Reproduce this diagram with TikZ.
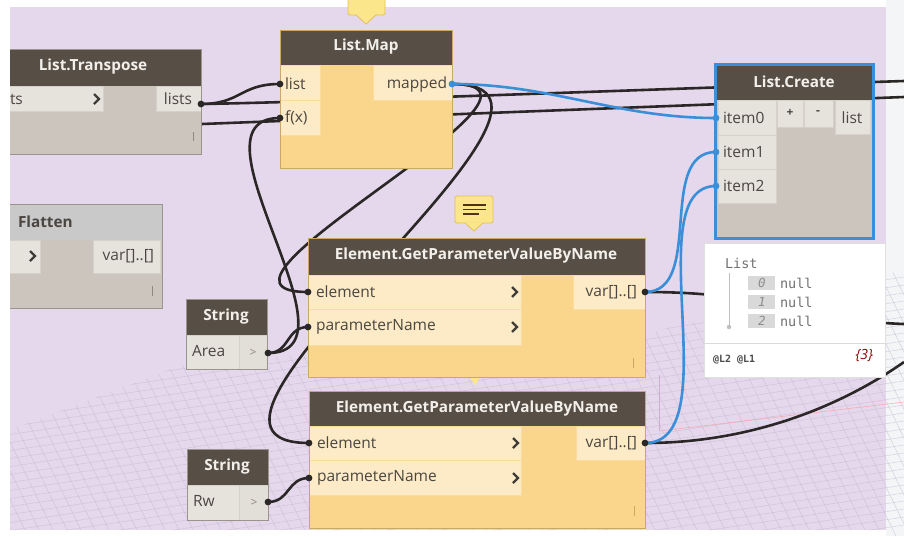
\documentclass[tikz,border=0pt]{standalone}
\usepackage{fontspec}
\setmainfont{Open Sans}
\newfontfamily\monof{DejaVu Sans Mono}
\usetikzlibrary{calc}

\definecolor{canvas}{HTML}{E5D8EC}
\definecolor{strip}{HTML}{F3F5F7}
\definecolor{hdr}{HTML}{574E45}
\definecolor{titlec}{HTML}{F3F0EB}
\definecolor{ybody}{HTML}{FAD68C}
\definecolor{ypanel}{HTML}{FCEBC6}
\definecolor{yedge}{HTML}{C9A965}
\definecolor{gbody}{HTML}{CBC5BE}
\definecolor{gpanel}{HTML}{E6E2DC}
\definecolor{gedge}{HTML}{9B948C}
\definecolor{portc}{HTML}{4B4641}
\definecolor{wirec}{HTML}{2A2726}
\definecolor{selc}{HTML}{3A8FD8}
\definecolor{notey}{HTML}{FCE68C}
\definecolor{noteedge}{HTML}{E2C15A}
\definecolor{gridc}{HTML}{BFB3CF}
\definecolor{gripc}{HTML}{8E8880}

\tikzset{
  every node/.style={inner sep=0pt, outer sep=0pt},
  ynode/.style={fill=ybody, anchor=north west},
  gnode/.style={fill=gbody, anchor=north west},
  yframe/.style={draw=yedge, line width=0.7pt},
  gframe/.style={draw=gedge, line width=0.7pt},
  ypan/.style={fill=ypanel, draw=ybody!70!ypanel, line width=0.5pt},
  gpan/.style={fill=gpanel, draw=gbody!60!gpanel, line width=0.5pt},
  title/.style={text=titlec, font=\bfseries\fontsize{15.3}{18}\selectfont},
  lbl/.style={text=portc, font=\fontsize{15.5}{18}\selectfont},
  wire/.style={draw=wirec, line width=2.6pt},
  selwire/.style={draw=selc, line width=2.6pt},
  chev/.style={draw=portc!85!black, line width=2.3pt},
  grip/.style={draw=gripc, line width=0.9pt},
  monotxt/.style={text=black!55, font=\monof\fontsize{13.5}{16}\selectfont},
}

\begin{document}
\begin{tikzpicture}[x=1pt,y=-1pt]
\useasboundingbox (0,0) rectangle (904,536);
\fill[white] (0,0) rectangle (904,536);
\fill[strip] (886,0) rectangle (904,536);
\fill[canvas] (10,7) rectangle (886,530);

% ground grid of the background view
\begin{scope}
  \clip (10,430) -- (190,362) -- (640,335) -- (904,270) -- (904,536) -- (886,536) -- (886,530) -- (10,530) -- cycle;
  \foreach \k in {0,...,45}
    \draw[gridc, line width=0.5pt, opacity=0.55] (0,300+8*\k) -- (904,165+8*\k);
  \foreach \k in {-20,...,70}
    \draw[gridc, line width=0.5pt, opacity=0.55] (14*\k,250) -- (14*\k+140,536);
\end{scope}
\draw[red!40, line width=0.6pt, opacity=0.7] (660,431) -- (904,402);
\draw[violet!40, line width=0.6pt, opacity=0.7] (659,375) -- (659,431);

% port positions
\coordinate (ltr-lists) at (201,104);
\coordinate (ltr-hid)   at (150,126);
\coordinate (far-a) at (904,81);
\coordinate (far-b) at (904,97);
\coordinate (far-c) at (904,324);
\coordinate (far-d) at (904,362);
\coordinate (lm-list) at (280,84);
\coordinate (lm-fx)   at (280,118);
\coordinate (lm-out)  at (452,84);
\coordinate (lc-i0) at (716,118);
\coordinate (lc-i1) at (716,152);
\coordinate (lc-i2) at (716,186);
\coordinate (e1-el)  at (308,292);
\coordinate (e1-pn)  at (308,327);
\coordinate (e1-out) at (645,292);
\coordinate (e2-el)  at (309,443);
\coordinate (e2-pn)  at (309,478);
\coordinate (e2-out) at (645,443);
\coordinate (sa-out) at (268,353);
\coordinate (sr-out) at (268,502);

% wires
\draw[wire] (ltr-lists) .. controls +(40,0) and +(-40,0) .. (lm-list);
\draw[wire] (ltr-lists) .. controls +(120,-2) and +(-300,10) .. (far-a);
\draw[wire] (ltr-hid) -- (far-b);
\draw[wire] (sa-out) .. controls +(100,0) and +(-100,0) .. (lm-fx);
\draw[wire] (sa-out) .. controls +(22,0) and +(-22,0) .. (e1-pn);
\draw[wire] (lm-out) .. controls +(140,0) and +(-140,0) .. (e1-el);
\draw[wire] (lm-out) .. controls +(180,0) and +(-180,0) .. (e2-el);
\draw[wire] (sr-out) .. controls +(22,0) and +(-22,0) .. (e2-pn);
\draw[wire] (e1-out) .. controls +(130,0) and +(-110,-4) .. (far-c);
\draw[wire] (e2-out) .. controls +(115,0) and +(-54,38) .. (far-d);
\draw[selwire] (lm-out) .. controls +(100,0) and +(-100,0) .. (lc-i0);
\draw[selwire] (e1-out) .. controls +(60,0) and +(-60,0) .. (lc-i1);
\draw[selwire] (e2-out) .. controls +(85,0) and +(-80,0) .. (lc-i2);

% pointer of a note lying behind the first GetParameterValueByName node
\fill[notey] (469,376) -- (475,385) -- (481,376) -- cycle;

\begin{scope}
\clip (10,0) rectangle (904,536);
% List.Transpose
\node[gnode, minimum width=200, minimum height=105] (ltr) at (1,49) {};
\fill[hdr] (1,49) rectangle (201,86);
\fill[gpan] (1,86) rectangle (103,111);
\fill[gpan] (156,86) rectangle (201,111);
\draw[gframe] (ltr.north west) rectangle (ltr.south east);
\node[title] (ltr-t) at (93,67) {List.Transpose};
\node[lbl, anchor=west] (ltr-in) at (10,99) {ts};
\node[lbl] (ltr-o) at (178,99) {lists};
\draw[chev] (94,94) -- (99,99) -- (94,104);
\draw[grip] (193,132) -- (193,141);

% Flatten
\node[gnode, minimum width=161, minimum height=104] (flat) at (1,204) {};
\fill[black!21] (1,204) rectangle (162,240);
\fill[gpan] (1,240) rectangle (40,273);
\fill[gpan] (93,240) rectangle (160,273);
\draw[gframe] (flat.north west) rectangle (flat.south east);
\node[anchor=west, text=portc, font=\bfseries\fontsize{15.3}{18}\selectfont] (flat-t) at (18,222) {Flatten};
\node[lbl, anchor=east] (flat-o) at (154,256) {var[]..[]};
\draw[chev] (30,251) -- (35,256) -- (30,261);
\draw[grip] (152,286) -- (152,296);
\end{scope}

% List.Map
\node[ynode, minimum width=172, minimum height=138] (lmap) at (280,30) {};
\fill[hdr] (280,30) rectangle (452,65);
\fill[ypan] (280,65) rectangle (320,100);
\fill[ypan] (280,100) rectangle (320,135);
\fill[ypan] (373,65) rectangle (452,100);
\draw[yframe] (lmap.north west) rectangle (lmap.south east);
\node[title] (lmap-t) at (366,47) {List.Map};
\node[lbl, anchor=west] (lmap-l) at (285,84) {list};
\node[lbl, anchor=west] (lmap-f) at (285,118) {f(x)};
\node[lbl, anchor=east] (lmap-m) at (447,84) {mapped};

% List.Create (selected)
\node[gnode, minimum width=158, minimum height=174] (lcr) at (715,64) {};
\fill[hdr] (715,64) rectangle (873,100);
\fill[gpan] (718,100) rectangle (776,135);
\fill[gpan] (718,135) rectangle (776,169);
\fill[gpan] (718,169) rectangle (776,203);
\fill[gpan] (777,100) rectangle (803,127);
\fill[gpan] (804,100) rectangle (833,127);
\fill[gpan] (835,100) rectangle (870,134);
\draw[selc, line width=3pt] (lcr.north west) rectangle (lcr.south east);
\node[title] (lcr-t) at (794,82) {List.Create};
\node[lbl, anchor=west] (lcr-0) at (723,118) {item0};
\node[lbl, anchor=west] (lcr-1) at (723,152) {item1};
\node[lbl, anchor=west] (lcr-2) at (723,186) {item2};
\node[lbl, font=\bfseries\fontsize{12}{14}\selectfont] (lcr-p) at (790,113) {+};
\node[lbl, font=\bfseries\fontsize{12}{14}\selectfont] (lcr-m) at (818,113) {-};
\node[lbl] (lcr-o) at (852,118) {list};

% Element.GetParameterValueByName (Area)
\node[ynode, minimum width=337, minimum height=139] (ge1) at (308,238) {};
\fill[hdr] (308,238) rectangle (645,275);
\fill[ypan] (308,275) rectangle (521,309);
\fill[ypan] (308,309) rectangle (521,345);
\fill[ypan] (573,275) rectangle (645,309);
\draw[yframe] (ge1.north west) rectangle (ge1.south east);
\node[title] (ge1-t) at (476,256) {Element.GetParameterValueByName};
\node[lbl, anchor=west] (ge1-e) at (316,292) {element};
\node[lbl, anchor=west] (ge1-p) at (316,327) {parameterName};
\node[lbl, anchor=east] (ge1-o) at (637,292) {var[]..[]};
\draw[chev] (512,287) -- (517,292) -- (512,297);
\draw[chev] (512,322) -- (517,327) -- (512,332);
\draw[grip, draw=yedge] (633,358) -- (633,368);

% Element.GetParameterValueByName (Rw)
\node[ynode, minimum width=336, minimum height=137] (ge2) at (309,391) {};
\fill[hdr] (309,391) rectangle (645,426);
\fill[ypan] (309,426) rectangle (521,460);
\fill[ypan] (309,460) rectangle (521,495);
\fill[ypan] (576,426) rectangle (645,460);
\draw[yframe] (ge2.north west) rectangle (ge2.south east);
\node[title] (ge2-t) at (477,409) {Element.GetParameterValueByName};
\node[lbl, anchor=west] (ge2-e) at (317,443) {element};
\node[lbl, anchor=west] (ge2-p) at (317,478) {parameterName};
\node[lbl, anchor=east] (ge2-o) at (637,443) {var[]..[]};
\draw[chev] (513,438) -- (518,443) -- (513,448);
\draw[chev] (513,473) -- (518,478) -- (513,483);
\draw[grip, draw=yedge] (634,506) -- (634,516);

% String nodes
\node[gnode, minimum width=81, minimum height=70] (sarea) at (186,299) {};
\fill[hdr] (186,299) rectangle (267,335);
\fill[gpan] (186,335) rectangle (239,369);
\fill[gpan, fill=gpanel!85!gbody] (239,335) rectangle (267,369);
\draw[gframe] (sarea.north west) rectangle (sarea.south east);
\node[title] (sarea-t) at (226,317) {String};
\node[lbl, anchor=west] (sarea-v) at (192,351) {Area};
\node[text=gripc, font=\fontsize{12}{14}\selectfont] (sarea-g) at (253,353) {>};

\node[gnode, minimum width=81, minimum height=71] (srw) at (187,449) {};
\fill[hdr] (187,449) rectangle (268,485);
\fill[gpan] (187,485) rectangle (239,520);
\fill[gpan, fill=gpanel!85!gbody] (239,485) rectangle (268,520);
\draw[gframe] (srw.north west) rectangle (srw.south east);
\node[title] (srw-t) at (227,467) {String};
\node[lbl, anchor=west] (srw-v) at (193,501) {Rw};
\node[text=gripc, font=\fontsize{12}{14}\selectfont] (srw-g) at (254,503) {>};

% watch preview below List.Create
\node[fill=white, draw=black!12, line width=0.6pt, anchor=north west, minimum width=181, minimum height=134] (watch) at (704,243) {};
\draw[black!14, line width=0.6pt] (704,343) -- (885,343);
\node[monotxt, anchor=west] (w-head) at (725,263) {List};
\draw[black!25, line width=1pt] (729,273) -- (729,327);
\fill[black!25] (729,327) circle (2.2);
\foreach \i/\yy in {0/283,1/302,2/321} {
  \fill[black!15] (748,\yy-7) rectangle (775,\yy+7);
  \node[monotxt, font=\monof\itshape\fontsize{12.5}{14}\selectfont, text=black!45] (w-i\i) at (762,\yy) {\i};
  \node[monotxt, anchor=west] (w-n\i) at (780,\yy) {null};
}
\node[anchor=west, text=black!70, font=\monof\bfseries\fontsize{10}{12}\selectfont] (w-lev) at (713,360) {@L2 @L1};
\node[anchor=east, text=red!55!black, font=\itshape\fontsize{14}{16}\selectfont] (w-cnt) at (873,356) {\{3\}};

% port dots
\foreach \p in {ltr-lists,lm-list,lm-fx,e1-el,e1-pn,e2-el,e2-pn,e1-out,e2-out,sa-out,sr-out}
  \fill[wirec] (\p) circle (3.4);
\foreach \p in {lm-out,lc-i0,lc-i1,lc-i2}
  \fill[selc] (\p) circle (3.4);

% notes
\node[fill=notey, draw=noteedge, line width=0.8pt, rounded corners=1.5pt, anchor=south west, minimum width=37, minimum height=26] (note1) at (348,15) {};
\fill[notey] (356,14) -- (366,24) -- (376,14) -- cycle;
\draw[noteedge, line width=0.8pt] (356,15) -- (366,24) -- (376,15);

\node[fill=notey, draw=noteedge, line width=0.8pt, rounded corners=1.5pt, anchor=north west, minimum width=38, minimum height=27] (note2) at (455,196) {};
\fill[notey] (465,222.4) -- (474,231) -- (483,222.4) -- cycle;
\draw[noteedge, line width=0.8pt] (465,223) -- (474,231) -- (483,223);
\draw[black!60!brown, line width=1.3pt] (463,205) -- (486,205) (463,209.5) -- (486,209.5) (463,214) -- (479,214);
\end{tikzpicture}
\end{document}
